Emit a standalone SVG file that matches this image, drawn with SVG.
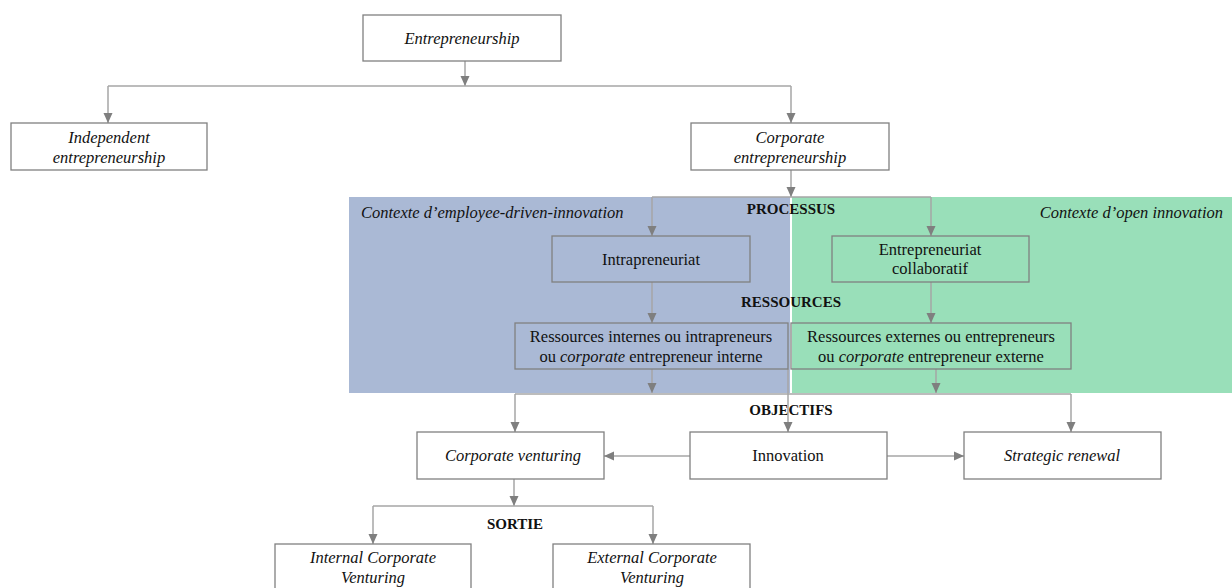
<svg xmlns="http://www.w3.org/2000/svg" width="1232" height="588" viewBox="0 0 1232 588">
<defs>
<marker id="ah" markerUnits="userSpaceOnUse" markerWidth="10" markerHeight="10" viewBox="0 0 10 10" refX="10" refY="5" orient="auto">
<path d="M0,0.5 L10,5 L0,9.5 Z" fill="#7f7f7f"/>
</marker>
<style>
.box{fill:#fff;stroke:#808080;stroke-width:1.3}
.tbox{fill:none;stroke:#808080;stroke-width:1.3}
.c{fill:none;stroke:#a6a6a6;stroke-width:1.5}
.a{marker-end:url(#ah)}
text{font-family:"Liberation Serif","Times New Roman",serif;font-size:16.5px;fill:#111}
.i{font-style:italic}
.b{font-weight:bold;font-size:15px}
.m{text-anchor:middle}
</style>
</defs>
<rect id="bg-edi" x="349" y="197" width="441" height="196" fill="#aab9d5"/>
<rect id="bg-oi" x="792" y="197" width="440" height="196" fill="#99dfb9"/>
<text class="i" x="361" y="218">Contexte d’employee-driven-innovation</text>
<text class="i" x="1223" y="218" text-anchor="end">Contexte d’open innovation</text>
<text class="b m" x="791" y="214">PROCESSUS</text>
<text class="b m" x="791" y="307">RESSOURCES</text>
<text class="b m" x="791" y="415">OBJECTIFS</text>
<text class="b m" x="515" y="529">SORTIE</text>
<g id="connectors">
<path class="c a" d="M465,61 V86"/>
<path class="c" d="M108,86 H791"/>
<path class="c a" d="M108,86 V123"/>
<path class="c a" d="M791,86 V123"/>
<path class="c a" d="M791,170 V197"/>
<path class="c" d="M652,197 H931"/>
<path class="c a" d="M652,197 V236"/>
<path class="c a" d="M931,197 V236"/>
<path class="c a" d="M652,282 V323"/>
<path class="c a" d="M931,282 V323"/>
<path class="c a" d="M652,369 V393"/>
<path class="c a" d="M936,369 V393"/>
<path class="c" d="M515,394 H1071"/>
<path class="c a" d="M515,394 V432"/>
<path class="c a" d="M788,369 V432"/>
<path class="c a" d="M1071,394 V432"/>
<path class="c a" d="M690,456 H604"/>
<path class="c a" d="M887,456 H964"/>
<path class="c a" d="M514,479 V506"/>
<path class="c" d="M373,506 H653"/>
<path class="c a" d="M373,506 V544"/>
<path class="c a" d="M653,506 V544"/>
</g>
<g id="n-entrepreneurship"><rect class="box" x="363" y="15" width="198" height="46"/><text class="i m" x="462" y="44">Entrepreneurship</text></g>
<g id="n-independent"><rect class="box" x="11" y="123" width="196" height="47"/><text class="i m" x="109" y="143">Independent</text><text class="i m" x="109" y="163">entrepreneurship</text></g>
<g id="n-corporate"><rect class="box" x="691" y="123" width="198" height="47"/><text class="i m" x="790" y="143">Corporate</text><text class="i m" x="790" y="163">entrepreneurship</text></g>
<g id="n-intra"><rect class="tbox" x="552" y="236" width="198" height="46"/><text class="m" x="651" y="265">Intrapreneuriat</text></g>
<g id="n-collab"><rect class="tbox" x="832" y="236" width="197" height="46"/><text class="m" x="930" y="255">Entrepreneuriat</text><text class="m" x="930" y="274">collaboratif</text></g>
<g id="n-res-int"><rect class="tbox" x="515" y="323" width="273" height="46"/><text class="m" x="651" y="342">Ressources internes ou intrapreneurs</text><text class="m" x="651" y="362">ou <tspan class="i">corporate</tspan> entrepreneur interne</text></g>
<g id="n-res-ext"><rect class="tbox" x="791" y="323" width="280" height="46"/><text class="m" x="931" y="342">Ressources externes ou entrepreneurs</text><text class="m" x="931" y="362">ou <tspan class="i">corporate</tspan> entrepreneur externe</text></g>
<g id="n-cv"><rect class="box" x="417" y="432" width="187" height="47"/><text class="i m" x="513" y="461">Corporate venturing</text></g>
<g id="n-innovation"><rect class="box" x="690" y="432" width="197" height="47"/><text class="m" x="788" y="461">Innovation</text></g>
<g id="n-strategic"><rect class="box" x="964" y="432" width="197" height="47"/><text class="i m" x="1062" y="461">Strategic renewal</text></g>
<g id="n-icv"><rect class="box" x="275" y="544" width="196" height="60"/><text class="i m" x="373" y="563">Internal Corporate</text><text class="i m" x="373" y="583">Venturing</text></g>
<g id="n-ecv"><rect class="box" x="553" y="544" width="197" height="60"/><text class="i m" x="652" y="563">External Corporate</text><text class="i m" x="652" y="583">Venturing</text></g>
</svg>
